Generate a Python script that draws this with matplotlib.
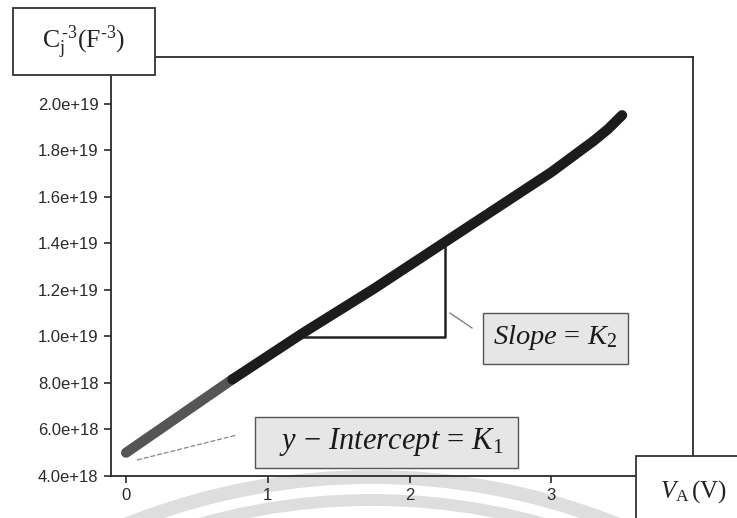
import numpy as np
import matplotlib.pyplot as plt
from matplotlib.patches import Rectangle, Arc
from matplotlib.lines import Line2D
from matplotlib.ticker import FormatStrFormatter

plt.rcParams['mathtext.fontset'] = 'custom'
plt.rcParams['mathtext.rm'] = 'Liberation Serif'
plt.rcParams['mathtext.it'] = 'Liberation Serif:italic'

# C^-3 vs applied voltage
v_a = [0.0, 0.25, 0.5, 0.75, 1.0, 1.25, 1.5, 1.75, 2.0, 2.25, 2.5, 2.75, 3.0,
       3.1, 3.2, 3.3, 3.4, 3.5]
c_inv3 = [5.0e18, 6.05e18, 7.1e18, 8.15e18, 9.15e18, 10.15e18, 11.1e18, 12.05e18,
          13.05e18, 14.05e18, 15.05e18, 16.05e18, 17.05e18,
          17.5e18, 17.95e18, 18.4e18, 18.9e18, 19.5e18]
y_ticks = [4e18, 6e18, 8e18, 1e19, 1.2e19, 1.4e19, 1.6e19, 1.8e19, 2e19]
x_ticks = [0, 1, 2, 3]
slope_run = [1.2, 2.25]  # ends of the slope triangle

W, H = 737, 518
fig = plt.figure(figsize=(W / 100, H / 100), dpi=100)


def fx(x):
    return x / W


def fy(y):
    return 1 - y / H


ax = fig.add_axes([fx(111), fy(476), fx(693 - 111), (476 - 57) / H])
ax.set_facecolor('none')

v = np.array(v_a)
c = np.array(c_inv3)
split = 4
ax.plot(v[:split], c[:split], color='#555555', lw=7.3, solid_capstyle='round',
        solid_joinstyle='round', zorder=3)
ax.plot(v[split - 1:], c[split - 1:], color='#1c1c1c', lw=7.3, solid_capstyle='round',
        solid_joinstyle='round', zorder=3)

# slope triangle under the curve
xa, xb = slope_run
ya, yb = np.interp(xa, v, c), np.interp(xb, v, c)
ax.plot([xa, xb, xb], [ya, ya, yb], color='#222222', lw=1.8, zorder=2)

ax.set_xlim(-0.106, 4.0)
ax.set_ylim(4e18, 2.2e19)
ax.set_xticks(x_ticks)
ax.set_yticks(y_ticks)
ax.yaxis.set_major_formatter(FormatStrFormatter('%.1e'))
ax.tick_params(direction='out', length=5, width=1.2, colors='#2a2a2a', labelsize=12, pad=4)
for lab in ax.get_xticklabels() + ax.get_yticklabels():
    lab.set_fontfamily('Liberation Sans')
for s in ax.spines.values():
    s.set_color('#2b2b2b')
    s.set_linewidth(1.3)

# faint arcs along the bottom edge
for r, lw in [(660, 10), (637, 8.5)]:
    fig.patches.append(Arc((fx(372), fy(1137)), 2 * r / W, 2 * r / H, theta1=58, theta2=122,
                           transform=fig.transFigure, color='#dedede', lw=lw, zorder=-1))


def box(x0, y0, x1, y1, face, edge, lw):
    fig.patches.append(Rectangle((fx(x0), fy(y1)), fx(x1 - x0), (y1 - y0) / H,
                                 transform=fig.transFigure, facecolor=face,
                                 edgecolor=edge, lw=lw, zorder=2))


# axis label boxes
box(13, 8, 155, 75, 'white', '#333333', 1.3)
fig.text(fx(84), fy(42), r'$\mathrm{C_j^{\,\text{-}3}(F^{\text{-}3})}$', ha='center', va='center',
         fontsize=18.5, color='#222222', zorder=3)
box(636, 456, 745, 530, 'white', '#333333', 1.3)
fig.text(fx(694), fy(492), r'$V_\mathrm{A}\,\mathrm{(V)}$', ha='center', va='center',
         fontsize=18, color='#222222', zorder=3)

# annotation boxes
box(483, 313, 628, 364, '#e6e6e6', '#555555', 1.0)
fig.text(fx(555), fy(338), r'$Slope\,=\,K_2$', ha='center', va='center',
         fontsize=20.5, color='#1a1a1a', zorder=3)
box(255, 417, 518, 468, '#e6e6e6', '#555555', 1.0)
fig.text(fx(391), fy(442), r'$y\,-\,Intercept\,=\,K_1$', ha='center', va='center',
         fontsize=22, color='#1a1a1a', zorder=3)

# leader lines
fig.lines.append(Line2D([fx(450), fx(472)], [fy(313), fy(328)], transform=fig.transFigure,
                        color='#777777', lw=0.9))
fig.lines.append(Line2D([fx(137), fx(237)], [fy(460), fy(435)], transform=fig.transFigure,
                        color='#888888', lw=0.9, ls=(0, (4, 1.5))))

fig.savefig('out.png', dpi=100)
